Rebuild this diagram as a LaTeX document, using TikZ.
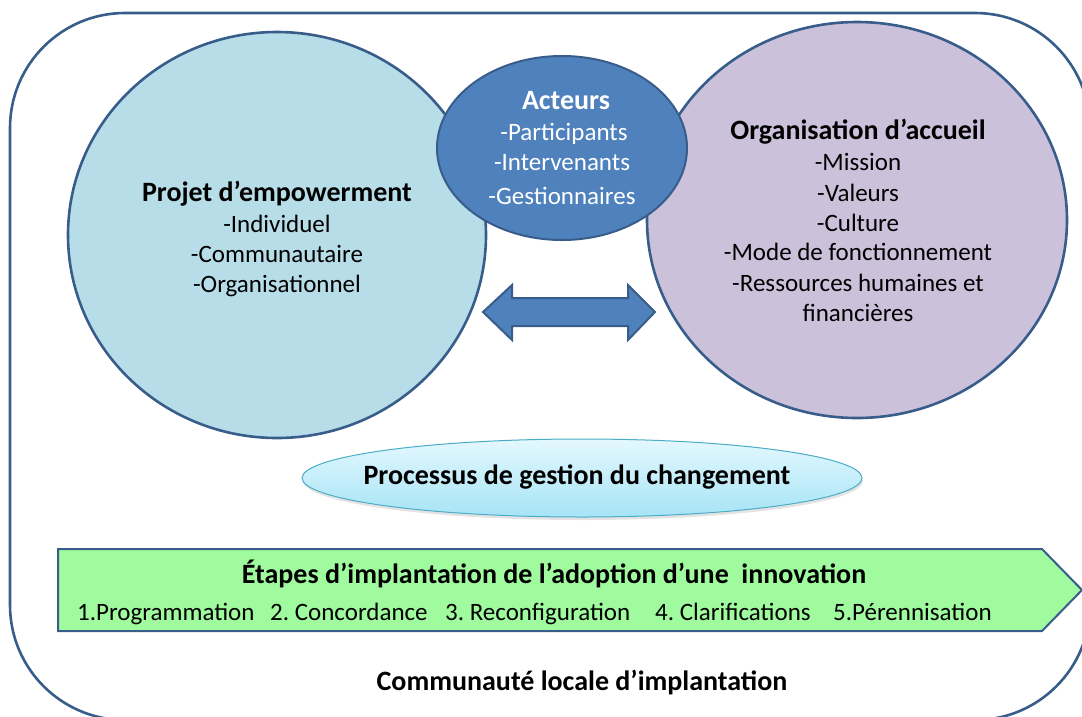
\documentclass[tikz,border=0pt]{standalone}
\usepackage{fontspec}
\setmainfont{Carlito}
\frenchspacing
\usetikzlibrary{shapes.geometric,shadows}
\definecolor{strokeblue}{HTML}{385D8A}
\definecolor{leftfill}{HTML}{B7DEE8}
\definecolor{rightfill}{HTML}{CCC1DA}
\definecolor{actfill}{HTML}{4F81BD}
\definecolor{greenfill}{HTML}{A0FB9E}
\definecolor{elltop}{HTML}{E4F8FE}
\definecolor{ellbot}{HTML}{A6E4F6}
\definecolor{ellline}{HTML}{4BACC6}
\tikzset{
  bubble/.style={ellipse, draw=strokeblue, line width=2.6pt, inner sep=0pt},
  base/.style={inner sep=0pt, text height=17pt, text depth=4pt, yshift=-2pt},
  txt/.style={base, font=\fontsize{25}{30}\selectfont\frenchspacing, text=black},
  btxt/.style={base, font=\fontsize{28}{33}\selectfont\bfseries\frenchspacing, text=black},
  wtxt/.style={base, font=\fontsize{25}{30}\selectfont\frenchspacing, text=white},
  wbtxt/.style={base, font=\fontsize{28}{33}\selectfont\bfseries\frenchspacing, text=white},
}
\begin{document}
\begin{tikzpicture}[x=1pt,y=-1pt]
\useasboundingbox (0,0) rectangle (1082,716);
\begin{scope}
\clip (0,0) rectangle (1082,716);
% outer frame
\draw[strokeblue, line width=2.6pt, rounded corners=115pt] (10,13) rectangle (1090,720);

% circles
\node[bubble, fill=leftfill, minimum width=418pt, minimum height=406pt] (left) at (277,235) {};
\node[bubble, fill=rightfill, minimum width=420pt, minimum height=396pt] (right) at (857,220) {};
\node[bubble, fill=actfill, line width=2pt, minimum width=250pt, minimum height=184pt] (act) at (562,148) {};

% left texts
\node[btxt] (l0) at (277,193) {Projet d’empowerment};
\node[txt] (l1) at (277,224) {-Individuel};
\node[txt] (l2) at (277,254) {-Communautaire};
\node[txt] (l3) at (277,284) {-Organisationnel};

% acteurs texts
\node[wbtxt] (a0) at (566,101) {Acteurs};
\node[wtxt] (a1) at (564,132) {-Participants};
\node[wtxt] (a2) at (562,162) {-Intervenants};
\node[wtxt] (a3) at (562,196) {-Gestionnaires};

% right texts
\node[btxt] (r0) at (858,131) {Organisation d’accueil};
\node[txt] (r1) at (858,162) {-Mission};
\node[txt] (r2) at (858,193) {-Valeurs};
\node[txt] (r3) at (858,223) {-Culture};
\node[txt] (r4) at (858,252) {-Mode de fonctionnement};
\node[txt] (r5) at (858,283) {-Ressources humaines et};
\node[txt] (r6) at (858,313) {financières};

% double arrow
\draw[strokeblue, line width=2pt, fill=actfill, line join=miter]
  (483,312) -- (512,285) -- (512,298) -- (628,298) -- (628,285) -- (655,312)
  -- (628,340) -- (628,326) -- (512,326) -- (512,340) -- cycle;

% process ellipse
\node[ellipse, draw=ellline, line width=1pt, top color=elltop, bottom color=ellbot,
  minimum width=560pt, minimum height=78pt, inner sep=0pt,
  drop shadow={shadow xshift=1pt, shadow yshift=-3pt, opacity=0.22}] (proc) at (582,478) {};
\node[btxt] (proct) at (577,476) {Processus de gestion du changement};

% green pentagon
\draw[strokeblue, line width=2pt, fill=greenfill, line join=miter]
  (58,549) -- (1042,549) -- (1082,590) -- (1042,631) -- (58,631) -- cycle;
\node[btxt] (etapes) at (554,575) {Étapes d’implantation de l’adoption d’une\ \ innovation};
\node[txt, anchor=west] (s1) at (77,612) {1.Programmation};
\node[txt, anchor=west] (s2) at (270,612) {2. Concordance};
\node[txt, anchor=west] (s3) at (445,612) {3. Reconfiguration};
\node[txt, anchor=west] (s4) at (655,612) {4. Clarifications};
\node[txt, anchor=west] (s5) at (833,612) {5.Pérennisation};

% bottom label
\node[btxt] (comm) at (582,682) {Communauté locale d’implantation};
\end{scope}
\end{tikzpicture}
\end{document}
